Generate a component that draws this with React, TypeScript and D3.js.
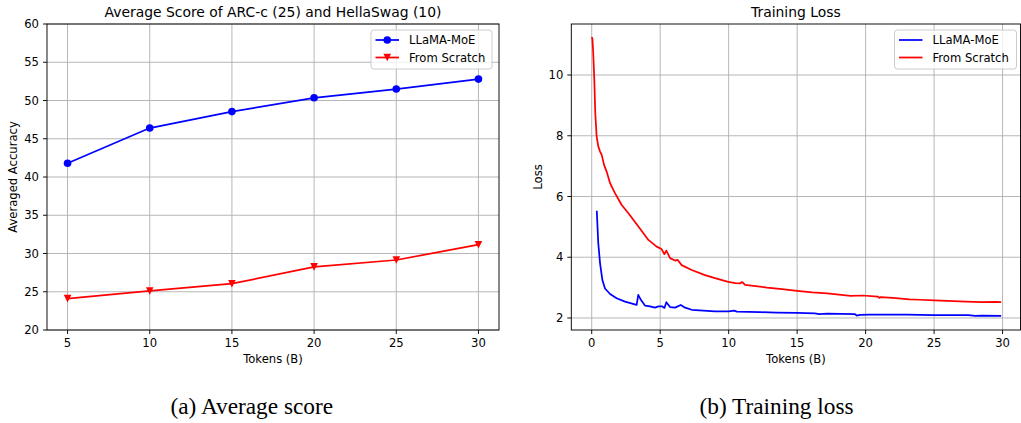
import React from "react";
import * as d3 from "d3";

// ---------- Data: left panel (average score) ----------
const tokensEval = [5, 10, 15, 20, 25, 30];
const llamaMoeScore = [41.8, 46.4, 48.55, 50.35, 51.5, 52.8];
const scratchScore = [24.1, 25.1, 26.05, 28.25, 29.15, 31.15];
const leftYTicks = [20, 25, 30, 35, 40, 45, 50, 55, 60];
const leftXTicks = [5, 10, 15, 20, 25, 30];

// ---------- Data: right panel (training loss) ----------
const moeLossX = [0.37, 0.48, 0.61, 0.78, 0.97, 1.34, 1.82, 2.43, 3.28, 3.4, 3.6, 3.89, 4.26, 4.62, 4.87, 5.16, 5.31, 5.45, 5.72, 6.09, 6.5, 6.82, 7.3, 9.0, 10.0, 10.4, 10.6, 12.3, 13.5, 15.0, 16.3, 16.6, 17.2, 19.2, 19.35, 19.6, 20.3, 23.0, 25.0, 27.5, 28.0, 28.5, 29.9];
const moeLossY = [5.53, 4.46, 3.8, 3.25, 2.97, 2.79, 2.65, 2.54, 2.43, 2.76, 2.59, 2.41, 2.38, 2.34, 2.38, 2.38, 2.33, 2.52, 2.36, 2.34, 2.43, 2.34, 2.27, 2.22, 2.22, 2.24, 2.21, 2.19, 2.18, 2.17, 2.15, 2.13, 2.14, 2.13, 2.08, 2.1, 2.11, 2.11, 2.09, 2.09, 2.07, 2.08, 2.07];
const scratchLossX = [0.0, 0.05, 0.1, 0.19, 0.26, 0.36, 0.48, 0.61, 0.73, 0.9, 1.09, 1.34, 1.7, 2.19, 2.68, 3.41, 4.14, 4.74, 5.1, 5.3, 5.45, 5.72, 6.09, 6.28, 6.57, 7.3, 8.27, 9.0, 9.97, 10.5, 10.8, 11.0, 11.2, 12.8, 13.9, 15.0, 16.1, 17.2, 18.9, 19.8, 20.9, 21.0, 21.1, 22.0, 23.2, 24.0, 25.0, 26.0, 27.3, 28.5, 29.5, 29.9];
const scratchLossY = [11.25, 11.2, 10.83, 9.85, 8.75, 7.98, 7.65, 7.48, 7.37, 7.04, 6.82, 6.44, 6.11, 5.72, 5.45, 5.01, 4.57, 4.35, 4.27, 4.1, 4.22, 3.97, 3.89, 3.91, 3.74, 3.58, 3.41, 3.31, 3.19, 3.15, 3.14, 3.18, 3.09, 3.0, 2.95, 2.89, 2.84, 2.81, 2.73, 2.74, 2.7, 2.66, 2.69, 2.66, 2.61, 2.6, 2.58, 2.56, 2.54, 2.52, 2.53, 2.52];
const rightYTicks = [2, 4, 6, 8, 10];
const rightXTicks = [0, 5, 10, 15, 20, 25, 30];

const seriesNames = ["LLaMA-MoE", "From Scratch"];
const seriesColors = ["#0000ff", "#ff0000"];

const FONT = "DejaVu Sans, sans-serif";
const FS = 11.6;
const GRID = "#b0b0b0";
const MR = 3.8;

function triDown(cx: number, cy: number, h: number) {
  return `M${cx},${cy + h}L${cx - h},${cy - h}L${cx + h},${cy - h}Z`;
}

type Box = { left: number; right: number; top: number; bottom: number };

function Axes({
  box,
  x,
  y,
  xTicks,
  yTicks,
  title,
  xLabel,
  yLabel,
  yLabelX,
}: {
  box: Box;
  x: d3.ScaleLinear<number, number>;
  y: d3.ScaleLinear<number, number>;
  xTicks: number[];
  yTicks: number[];
  title: string;
  xLabel: string;
  yLabel: string;
  yLabelX: number;
}) {
  const cx = (box.left + box.right) / 2;
  const cy = (box.top + box.bottom) / 2;
  return (
    <g>
      {xTicks.map((t) => (
        <line key={"gx" + t} x1={x(t)} x2={x(t)} y1={box.top} y2={box.bottom} stroke={GRID} strokeWidth={0.93} />
      ))}
      {yTicks.map((t) => (
        <line key={"gy" + t} x1={box.left} x2={box.right} y1={y(t)} y2={y(t)} stroke={GRID} strokeWidth={0.93} />
      ))}
      {xTicks.map((t) => (
        <g key={"tx" + t}>
          <line x1={x(t)} x2={x(t)} y1={box.bottom} y2={box.bottom + 4} stroke="#000" strokeWidth={0.93} />
          <text x={x(t)} y={box.bottom + 17} textAnchor="middle" fontFamily={FONT} fontSize={FS} fill="#000">
            {t}
          </text>
        </g>
      ))}
      {yTicks.map((t) => (
        <g key={"ty" + t}>
          <line x1={box.left - 4} x2={box.left} y1={y(t)} y2={y(t)} stroke="#000" strokeWidth={0.93} />
          <text x={box.left - 8} y={y(t) + 4.2} textAnchor="end" fontFamily={FONT} fontSize={FS} fill="#000">
            {t}
          </text>
        </g>
      ))}
      <text x={cx} y={box.bottom + 33} textAnchor="middle" fontFamily={FONT} fontSize={FS} fill="#000">
        {xLabel}
      </text>
      <text
        transform={`translate(${yLabelX},${cy}) rotate(-90)`}
        textAnchor="middle"
        fontFamily={FONT}
        fontSize={FS}
        fill="#000"
      >
        {yLabel}
      </text>
      <text x={cx} y={box.top - 7} textAnchor="middle" fontFamily={FONT} fontSize={13.9} fill="#000">
        {title}
      </text>
    </g>
  );
}

function Frame({ box }: { box: Box }) {
  return (
    <rect
      x={box.left}
      y={box.top}
      width={box.right - box.left}
      height={box.bottom - box.top}
      fill="none"
      stroke="#000"
      strokeWidth={0.93}
    />
  );
}

function Legend({ right, top, markers }: { right: number; top: number; markers: boolean }) {
  const w = markers ? 121 : 122;
  const h = 39;
  const x0 = right - w;
  return (
    <g>
      <rect x={x0} y={top} width={w} height={h} rx={3} ry={3} fill="#fff" fillOpacity={0.8} stroke="#cccccc" strokeWidth={1} />
      {seriesNames.map((name, i) => {
        const ly = top + 10 + i * 17.5;
        const lx1 = x0 + 4.5;
        const lx2 = lx1 + 23.5;
        const mx = (lx1 + lx2) / 2;
        return (
          <g key={name}>
            <line x1={lx1} x2={lx2} y1={ly} y2={ly} stroke={seriesColors[i]} strokeWidth={1.74} />
            {markers && i === 0 && <circle cx={mx} cy={ly} r={MR} fill={seriesColors[i]} />}
            {markers && i === 1 && <path d={triDown(mx, ly, MR)} fill={seriesColors[i]} />}
            <text x={lx2 + 10} y={ly + 4.2} fontFamily={FONT} fontSize={FS} fill="#000">
              {name}
            </text>
          </g>
        );
      })}
    </g>
  );
}

export default function App() {
  const W = 1021;
  const H = 423;

  // Left panel
  const lb: Box = { left: 47, right: 499, top: 24, bottom: 330 };
  const lx = d3.scaleLinear().domain([3.75, 31.25]).range([lb.left, lb.right]);
  const ly = d3.scaleLinear().domain([20, 60]).range([lb.bottom, lb.top]);
  const lineL = d3
    .line<number>()
    .x((_, i) => lx(tokensEval[i]))
    .y((d) => ly(d));

  // Right panel
  const rb: Box = { left: 571.3, right: 1020.5, top: 24, bottom: 330 };
  const rx = d3.scaleLinear().domain([-1.49, 31.31]).range([rb.left, rb.right]);
  const ry = d3.scaleLinear().domain([1.604, 11.68]).range([rb.bottom, rb.top]);
  const moeLine = d3
    .line<number>()
    .x((_, i) => rx(moeLossX[i]))
    .y((d) => ry(d));
  const scratchLine = d3
    .line<number>()
    .x((_, i) => rx(scratchLossX[i]))
    .y((d) => ry(d));

  return (
    <svg
      width={W}
      height={H}
      viewBox={`0 0 ${W} ${H}`}
      style={{ position: "absolute", left: 0, top: 0, background: "#fff" }}
    >
      <rect x={0} y={0} width={W} height={H} fill="#fff" />

      {/* Left panel */}
      <Axes
        box={lb}
        x={lx}
        y={ly}
        xTicks={leftXTicks}
        yTicks={leftYTicks}
        title="Average Score of ARC-c (25) and HellaSwag (10)"
        xLabel="Tokens (B)"
        yLabel="Averaged Accuracy"
        yLabelX={17}
      />
      <path d={lineL(llamaMoeScore) || ""} fill="none" stroke={seriesColors[0]} strokeWidth={1.74} />
      {llamaMoeScore.map((v, i) => (
        <circle key={"m" + i} cx={lx(tokensEval[i])} cy={ly(v)} r={MR} fill={seriesColors[0]} />
      ))}
      <path d={lineL(scratchScore) || ""} fill="none" stroke={seriesColors[1]} strokeWidth={1.74} />
      {scratchScore.map((v, i) => (
        <path key={"s" + i} d={triDown(lx(tokensEval[i]), ly(v), MR)} fill={seriesColors[1]} />
      ))}
      <Frame box={lb} />
      <Legend right={lb.right - 7} top={30} markers={true} />

      {/* Right panel */}
      <Axes
        box={rb}
        x={rx}
        y={ry}
        xTicks={rightXTicks}
        yTicks={rightYTicks}
        title="Training Loss"
        xLabel="Tokens (B)"
        yLabel="Loss"
        yLabelX={541.5}
      />
      <path d={moeLine(moeLossY) || ""} fill="none" stroke={seriesColors[0]} strokeWidth={1.74} strokeLinejoin="round" />
      <path d={scratchLine(scratchLossY) || ""} fill="none" stroke={seriesColors[1]} strokeWidth={1.74} strokeLinejoin="round" />
      <Frame box={rb} />
      <Legend right={1016.5} top={30} markers={false} />

      {/* Captions */}
      <text x={251.8} y={414} textAnchor="middle" fontFamily="Liberation Serif, Times New Roman, serif" fontSize={23.3} fill="#000">
        (a) Average score
      </text>
      <text x={776.5} y={414} textAnchor="middle" fontFamily="Liberation Serif, Times New Roman, serif" fontSize={23.3} fill="#000">
        (b) Training loss
      </text>
    </svg>
  );
}
